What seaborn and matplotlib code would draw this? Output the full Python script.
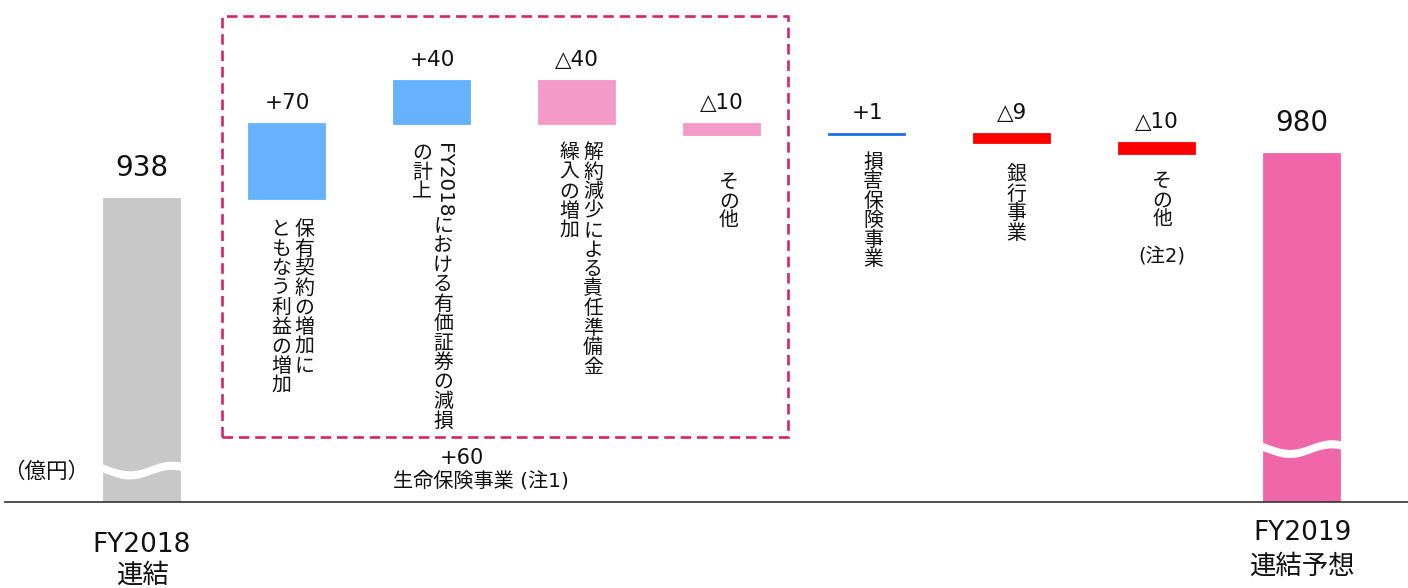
import re
import numpy as np
import pandas as pd
import matplotlib
matplotlib.use("Agg")
import matplotlib.pyplot as plt
from matplotlib.patches import Rectangle
from matplotlib.textpath import TextPath
from matplotlib.font_manager import FontProperties
import seaborn as sns

# ---- data -------------------------------------------------------------
start_value = 938
end_value = 980
step_values = [70, 40, -40, -10, 1, -9, -10]
value_labels = ["938", "+70", "+40", "△40", "△10", "+1", "△9", "△10", "980"]
bar_colors = ["#c8c8c8", "#66b2ff", "#66b2ff", "#f49ac8", "#f49ac8",
              "#1f6fe8", "#ff0000", "#ff0000", "#f066a8"]
step_names = [
    ["保有契約の増加に", "ともなう利益の増加"],
    ["FY2018における有価証券の減損", "の計上"],
    ["解約減少による責任準備金", "繰入の増加"],
    ["その他"],
    ["損害保険事業"],
    ["銀行事業"],
    ["その他"],
]
total_names = ["FY2018\n連結", "FY2019\n連結予想"]
group_value = "+60"
group_name = "生命保険事業 (注1)"
note_2 = "(注2)"
unit_label = "（億円）"

# ---- waterfall geometry ----------------------------------------------
axis_floor = 655.2
cum = np.cumsum([start_value] + step_values)
tops, bottoms = [start_value], [axis_floor]
for prev, cur in zip(cum[:-1], cum[1:]):
    tops.append(max(prev, cur))
    bottoms.append(min(prev, cur))
tops.append(end_value)
bottoms.append(axis_floor)
keys = [f"b{i}" for i in range(len(tops))]
df = pd.DataFrame({"key": keys, "top": tops, "bottom": bottoms})

# ---- figure ------------------------------------------------------------
sns.set_style("white")
plt.rcParams["font.family"] = ["DejaVu Sans", "Noto Sans CJK JP"]
W, H = 1408, 588
fig = plt.figure(figsize=(W / 100, H / 100), dpi=100)
ax_left = 5 / W
ax_bottom = 1 - 502 / H
ax = fig.add_axes([ax_left, ax_bottom, 1 - ax_left, 1 - ax_bottom])

sns.barplot(data=df, x="key", y="top", hue="key", palette=bar_colors,
            width=0.52, saturation=1, legend=False, ax=ax)
for p, b, t, c in zip(ax.patches, bottoms, tops, bar_colors):
    p.set_y(b)
    p.set_height(t - b)
    p.set_edgecolor(c)
    p.set_linewidth(1.3)

ax.set_xlim(-0.945, 8.73)
ax.set_ylim(axis_floor, axis_floor + 468.6)
ax.set_xlabel("")
ax.set_ylabel("")
ax.set_xticks([])
ax.set_yticks([])
for s in ["top", "left", "right"]:
    ax.spines[s].set_visible(False)
ax.spines["bottom"].set_color("#333333")
ax.spines["bottom"].set_linewidth(1.2)

# wavy break marks on the two total bars
for idx, level in [(0, 685), (len(tops) - 1, 705)]:
    xs = np.linspace(idx - 0.29, idx + 0.29, 120)
    t = (xs - xs[0]) / (xs[-1] - xs[0])
    mid = level + 4.5 * np.cos(2 * np.pi * (t + 0.15))
    ax.fill_between(xs, mid - 3.8, mid + 3.8, color="white", lw=0, zorder=5)

PX = 72 / 100  # points per pixel

# value labels above the bars
for i, (lab, t) in enumerate(zip(value_labels, tops)):
    big = i in (0, len(tops) - 1)
    ax.annotate(lab, xy=(i, t), xytext=(0, (17 if big else 11) * PX),
                textcoords="offset points", ha="center", va="bottom",
                fontsize=20 if big else 15.5, color="#111111")

# vertical (tategaki) step labels below each floating bar
FS = 14.3
PITCH = 19.5 * PX
latin = FontProperties(family="DejaVu Sans")
col_dx = [[17, -6], [11, -10], [16, -8], [7], [6], [4], [5]]
top_gap = [21, 19, 19, 38, 18, 22, 18]


def vertical_column(x, y, text, dx_px, gap_px):
    cursor = gap_px * PX
    for run in re.findall(r"[A-Za-z0-9]+|.", text):
        if run.isascii():
            w = TextPath((0, 0), run, size=FS, prop=latin).get_extents().width
            ax.annotate(run, xy=(x, y), xytext=(dx_px * PX, -cursor),
                        textcoords="offset points", rotation=-90,
                        ha="center", va="top", fontsize=FS, color="#111111")
            cursor += w + 2
        else:
            ax.annotate(run, xy=(x, y), xytext=(dx_px * PX, -cursor),
                        textcoords="offset points", ha="center", va="top",
                        fontsize=FS, color="#111111")
            cursor += PITCH
    return cursor


for k, cols in enumerate(step_names):
    i = k + 1
    end = 0
    for text, dx in zip(cols, col_dx[k]):
        end = max(end, vertical_column(i, bottoms[i], text, dx, top_gap[k]))
    if k == len(step_names) - 1:
        ax.annotate(note_2, xy=(i, bottoms[i]), xytext=(5 * PX, -end - 16 * PX),
                    textcoords="offset points", ha="center", va="top",
                    fontsize=14, color="#111111")

# total category names under the axis
ax.text(0, -58 / 502, total_names[0], transform=ax.get_xaxis_transform(),
        ha="center", va="center", fontsize=19, linespacing=1.25, color="#111111")
ax.text(len(tops) - 1, -48 / 502, total_names[1], transform=ax.get_xaxis_transform(),
        ha="center", va="center", fontsize=19, linespacing=1.4, color="#111111")

# unit label
fig.text(3 / W, 1 - 472 / H, unit_label, ha="left", va="center",
         fontsize=15.5, color="#111111")

# dashed frame around the life-insurance breakdown
fig.add_artist(Rectangle((222 / W, 1 - 437 / H), (788 - 222) / W, (437 - 16) / H,
                         transform=fig.transFigure, fill=False,
                         edgecolor="#d6236f", linewidth=1.9,
                         linestyle=(0, (4, 2.2))))
fig.text(462 / W, 1 - 458 / H, group_value, ha="center", va="center",
         fontsize=15, color="#111111")
fig.text(481 / W, 1 - 481 / H, group_name, ha="center", va="center",
         fontsize=14.5, color="#111111")

fig.savefig("out.png", dpi=100)
